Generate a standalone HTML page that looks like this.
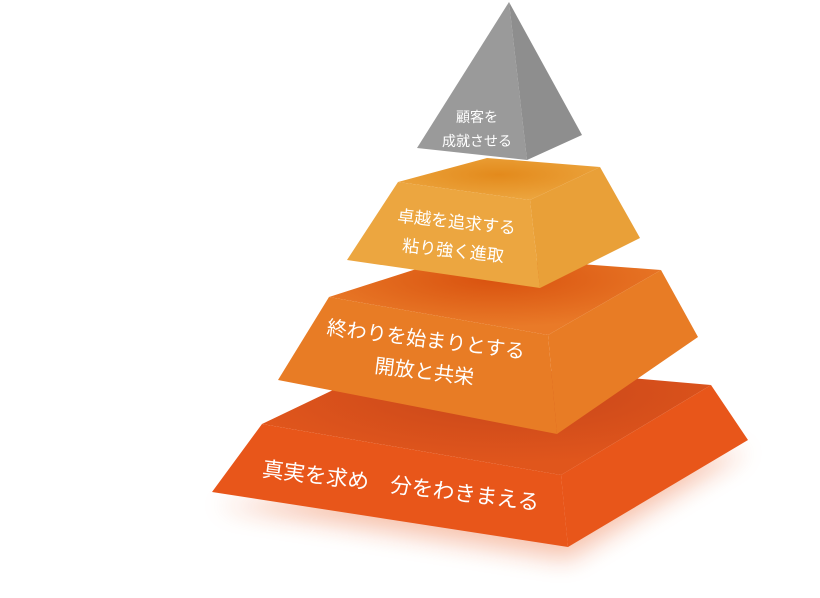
<!DOCTYPE html>
<html><head><meta charset="utf-8"><style>
html,body{margin:0;padding:0;background:#fff;width:820px;height:598px;overflow:hidden}
svg{display:block}
text{font-family:"Liberation Sans","Noto Sans CJK JP",sans-serif;fill:#fff}
</style></head><body>
<svg width="820" height="598" viewBox="0 0 820 598">
<defs>
<filter id="sh" x="-20%" y="-20%" width="140%" height="160%"><feGaussianBlur stdDeviation="12"/></filter>
<radialGradient id="t1" cx="0.55" cy="0.3" r="0.6"><stop offset="0" stop-color="#c8461a"/><stop offset="1" stop-color="#e0561c"/></radialGradient>
<radialGradient id="t2" cx="0.5" cy="0.3" r="0.6"><stop offset="0" stop-color="#d9520f"/><stop offset="1" stop-color="#e97a28"/></radialGradient>
<radialGradient id="t3" cx="0.5" cy="0.4" r="0.6"><stop offset="0" stop-color="#e38a1c"/><stop offset="1" stop-color="#eca53e"/></radialGradient>
</defs>
<polygon points="215,505 568,560 748,450 600,470" fill="#e8561a" opacity="0.35" filter="url(#sh)"/>
<polygon points="262,424 400,358 711,385 561,475" fill="url(#t1)"/>
<polygon points="262,424 561,475 568,547 212,492" fill="#e8561a"/>
<polygon points="561,475 711,385 748,440 568,547" fill="#e8561a"/>
<polygon points="329,297 460,255 661,270 548,335" fill="url(#t2)"/>
<polygon points="329,297 548,335 557,434 278,380" fill="#e87c25"/>
<polygon points="548,335 661,270 698,337 557,434" fill="#e87c25"/>
<polygon points="398,182 487,158 600,167 530,200" fill="url(#t3)"/>
<polygon points="398,182 530,200 540,288 347,260" fill="#eca640"/>
<polygon points="530,200 600,167 640,238 540,288" fill="#e9a038"/>
<polygon points="509,2 417,148 527,160" fill="#9a9a9a"/>
<polygon points="509,2 527,160 582,135" fill="#8e8e8e"/>
<text x="477" y="122" font-size="14" text-anchor="middle">顧客を</text>
<text x="477" y="146" font-size="14" text-anchor="middle">成就させる</text>
<g transform="rotate(6 400 230)">
<text x="396" y="222" font-size="17">卓越を追求する</text>
<text x="404" y="251" font-size="17">粘り強く進取</text>
</g>
<g transform="rotate(7 430 350)">
<text x="325" y="347" font-size="20">終わりを始まりとする</text>
<text x="377" y="379" font-size="20">開放と共栄</text>
</g>
<g transform="rotate(7 400 480)">
<text x="262" y="493" font-size="21.5">真実を求め　分をわきまえる</text>
</g>
</svg>
</body></html>
